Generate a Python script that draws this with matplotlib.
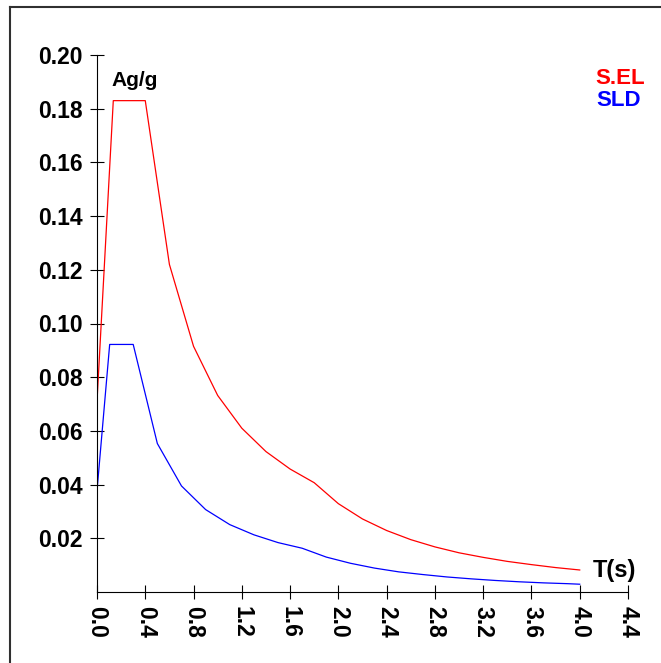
import matplotlib.pyplot as plt
from matplotlib.lines import Line2D

# spectrum S.EL (red)
t_sel = [0.0, 0.135, 0.40, 0.60, 0.80, 1.00, 1.20, 1.40, 1.60, 1.80, 2.00, 2.20,
         2.40, 2.60, 2.80, 3.00, 3.20, 3.40, 3.60, 3.80, 4.00]
a_sel = [0.071, 0.183, 0.183, 0.122, 0.0915, 0.0732, 0.0610, 0.0523, 0.0458, 0.0407,
         0.0329, 0.0272, 0.0229, 0.0195, 0.0168, 0.0146, 0.0129, 0.0114, 0.0102,
         0.0091, 0.0082]

# spectrum SLD (blue)
t_sld = [0.0, 0.105, 0.30, 0.50, 0.70, 0.90, 1.10, 1.30, 1.50, 1.70, 1.90, 2.10,
         2.30, 2.50, 2.70, 2.90, 3.10, 3.30, 3.50, 3.70, 3.90, 4.00]
a_sld = [0.0377, 0.0922, 0.0922, 0.0553, 0.0395, 0.0307, 0.0251, 0.0213, 0.0184,
         0.0163, 0.0130, 0.0107, 0.0089, 0.0075, 0.0065, 0.0056, 0.0049, 0.0043,
         0.0038, 0.0034, 0.0031, 0.0029]

xticks = [0.0, 0.4, 0.8, 1.2, 1.6, 2.0, 2.4, 2.8, 3.2, 3.6, 4.0, 4.4]
yticks = [0.02, 0.04, 0.06, 0.08, 0.10, 0.12, 0.14, 0.16, 0.18, 0.20]

plt.rcParams['font.family'] = ['Liberation Sans', 'DejaVu Sans']
plt.rcParams['font.weight'] = 'bold'

fig = plt.figure(figsize=(6.61, 6.63), dpi=100)
ax = fig.add_axes([97 / 661, 1 - 592 / 663, 531 / 661, 537 / 663])

ax.plot(t_sel, a_sel, color='#ff0000', lw=0.9)
ax.plot(t_sld, a_sld, color='#0000ff', lw=0.9)

ax.set_xlim(0, 4.4)
ax.set_ylim(0, 0.20)
ax.set_xticks(xticks)
ax.set_xticklabels(['%.1f' % v for v in xticks], rotation=-90, fontsize=16.5, fontweight='bold')
ax.set_yticks(yticks)
ax.set_yticklabels(['%.2f' % v for v in yticks], fontsize=16.5, fontweight='bold')
ax.tick_params(direction='inout', length=10, width=0.8, pad=5)
ax.tick_params(axis='x', pad=5)

for s in ['top', 'right']:
    ax.spines[s].set_visible(False)
ax.spines['left'].set_linewidth(0.8)
ax.spines['bottom'].set_linewidth(0.8)

# axis captions
fig.text(111 / 661, 1 - 80 / 663, 'Ag/g', fontsize=15, fontweight='bold', va='center', ha='left')
fig.text(636 / 661, 1 - 571 / 663, 'T(s)', fontsize=17, fontweight='bold', va='center', ha='right')
fig.text(645 / 661, 1 - 79 / 663, 'S.EL', fontsize=16, fontweight='bold', color='#ff0000', va='center', ha='right')
fig.text(641 / 661, 1 - 101 / 663, 'SLD', fontsize=16, fontweight='bold', color='#0000ff', va='center', ha='right')

# outer frame (top and left edges)
fig.add_artist(Line2D([10 / 661, 1], [1 - 6.5 / 663, 1 - 6.5 / 663], color='#303030', lw=1.5))
fig.add_artist(Line2D([10 / 661, 10 / 661], [0, 1 - 6.5 / 663], color='#303030', lw=1.5))

fig.savefig('out.png', dpi=100)
